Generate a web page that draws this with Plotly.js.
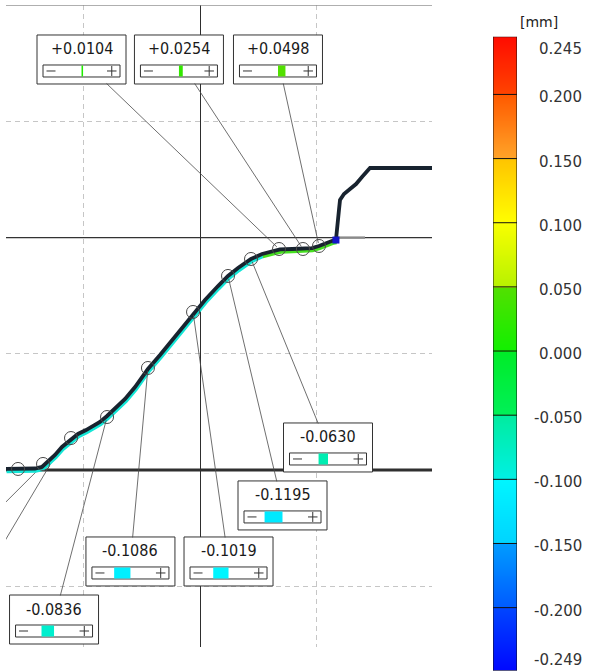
<!DOCTYPE html>
<html>
<head>
<meta charset="utf-8">
<script src="https://cdn.plot.ly/plotly-3.0.1.min.js"></script>
<style>
html,body{margin:0;padding:0;background:#ffffff;}
#chart{width:589px;height:672px;}
</style>
</head>
<body>
<div id="chart"></div>
<script>
// ---------------- data ----------------
// measured profile (section units, one grid cell = 1)
const profileX = [-1.670,-1.549,-1.420,-1.360,-1.308,-1.248,-1.188,-1.119,-1.050,-0.981,-0.912,-0.861,-0.800,-0.732,-0.645,-0.559,-0.448,-0.344,-0.215,-0.060,0.043,0.155,0.241,0.327,0.439,0.534,0.620,0.688,0.792,0.886,0.964,1.024,1.084,1.145,1.170,1.179,1.196,1.205,1.239,1.291,1.343,1.394,1.463,1.997];
const profileY = [0.009,0.009,0.013,0.026,0.069,0.129,0.198,0.258,0.310,0.344,0.379,0.413,0.465,0.525,0.611,0.714,0.869,0.990,1.145,1.343,1.463,1.583,1.670,1.738,1.816,1.859,1.885,1.898,1.902,1.902,1.910,1.928,1.954,1.975,1.979,2.108,2.238,2.324,2.375,2.418,2.461,2.522,2.599,2.599];
// measurement points (circles)
const pointX = [-1.566,-1.351,-1.110,-0.800,-0.448,-0.060,0.241,0.439,0.680,0.886,1.024];
const pointY = [0.009,0.052,0.275,0.456,0.878,1.360,1.670,1.816,1.902,1.902,1.928];
// end of measured section
const endPointX = [1.170];
const endPointY = [1.979];
// nominal lines
const nominalLowerY = 0;
const nominalUpperY = 2;
const nominalStubX = [1.179, 1.420];
// callouts
const calloutLabels = ['+0.0104','+0.0254','+0.0498','-0.0630','-0.1195','-0.1019','-0.1086','-0.0836'];
const calloutValues = [0.0104, 0.0254, 0.0498, -0.0630, -0.1195, -0.1019, -0.1086, -0.0836];
const calloutPoint = [8, 9, 10, 7, 6, 5, 4, 3];
// callouts cut off at the left edge (leader lines only): where the leaders meet the profile
const hiddenCalloutX = [-1.386, -1.256];
const hiddenCalloutY = [0.009, 0.103];
// colour scale
const scaleTicks = [0.245, 0.200, 0.150, 0.100, 0.050, 0.000, -0.050, -0.100, -0.150, -0.200, -0.249];
const scaleTickText = ['0.245','0.200','0.150','0.100','0.050','0.000','-0.050','-0.100','-0.150','-0.200','-0.249'];
const bandTopColors    = ['#ff0c00','#ff5a00','#ffc400','#f8ff00','#52e000','#00ec28','#00eca0','#00f6ff','#009cff','#0046ff'];
const bandBottomColors = ['#ff4400','#ffa428','#ffff00','#b8f200','#12f000','#00f058','#00f0e4','#00d4ff','#005cff','#0008ff'];

// ---------------- layout constants (pixels) ----------------
const W = 589, H = 672;
const PX_PER_UNIT = 116.2;
const boxOffsetX = [-197.5, -124, -41, 77, 54.5, 35.5, -17.5, -53];
const boxOffsetY = [-189.5, -189.5, -186.5, 188.5, 229.5, 249.5, 193.5, 202.5];
const hiddenOffsetX = [-80, -90];
const hiddenOffsetY = [80, 151.7];
const devScalePx = 150; // px per mm in the +/- indicator

// ---------------- helpers ----------------
function hexToRgb(h){h=h.replace('#','');return [parseInt(h.substr(0,2),16),parseInt(h.substr(2,2),16),parseInt(h.substr(4,2),16)];}
function mix(a,b,t){const A=hexToRgb(a),B=hexToRgb(b);const c=A.map((v,i)=>Math.round(v+(B[i]-v)*t));return 'rgb('+c.join(',')+')';}
function devColor(v){
  for(let i=0;i<scaleTicks.length-1;i++){
    const hi=scaleTicks[i], lo=scaleTicks[i+1];
    if(v<=hi && v>=lo){return mix(bandTopColors[i],bandBottomColors[i],(hi-v)/(hi-lo));}
  }
  return v>0?bandTopColors[0]:bandBottomColors[bandBottomColors.length-1];
}

// ---------------- traces ----------------
const traces = [];
// colour bar (heatmap of the band colours)
const eps = 0.0004;
const cbY = [], cbZ = [], cbScale = [];
const nb = bandTopColors.length;
for(let i=0;i<nb;i++){
  cbY.push(i===0?scaleTicks[i]:scaleTicks[i]-eps);
  cbY.push(i===nb-1?scaleTicks[i+1]:scaleTicks[i+1]+eps);
}
const nStops = cbY.length;
for(let k=0;k<nStops;k++){
  cbZ.push([k,k]);
  const col = (k%2===0)?bandTopColors[k>>1]:bandBottomColors[k>>1];
  cbScale.push([k/(nStops-1), col]);
}
cbY.reverse(); cbZ.reverse();
const cbScaleSorted = cbScale.map(s=>[1-s[0], s[1]]).reverse();
const cbZval = cbZ.map(r=>r.map(v=>nStops-1-v));
traces.push({type:'heatmap', x:[0,1], y:cbY, z:cbZval, xaxis:'x2', yaxis:'y2',
  colorscale:cbScaleSorted, zmin:0, zmax:nStops-1, zsmooth:'best', showscale:false, hoverinfo:'skip'});

// deviation colouring along the profile (drawn slightly offset under the profile)
const offX = 0.6/PX_PER_UNIT, offY = -2.0/PX_PER_UNIT;
const splitIdx = 25, endIdx = 34;
traces.push({type:'scatter', mode:'lines', x:profileX.slice(0,splitIdx+1).map(v=>v+offX), y:profileY.slice(0,splitIdx+1).map(v=>v+offY),
  line:{color:'#14e6d6', width:4.5}, hoverinfo:'skip', showlegend:false});
traces.push({type:'scatter', mode:'lines', x:profileX.slice(splitIdx,endIdx+1).map(v=>v+offX), y:profileY.slice(splitIdx,endIdx+1).map(v=>v+offY),
  line:{color:'#46e020', width:4.5}, hoverinfo:'skip', showlegend:false});
// profile
traces.push({type:'scatter', mode:'lines', x:profileX, y:profileY,
  line:{color:'#18232f', width:3.8}, hoverinfo:'skip', showlegend:false});
// measurement circles
traces.push({type:'scatter', mode:'markers', x:pointX, y:pointY,
  marker:{symbol:'circle-open', size:13, color:'#4a4a4a', line:{width:1}}, hoverinfo:'skip', showlegend:false});
// end point
traces.push({type:'scatter', mode:'markers', x:endPointX, y:endPointY,
  marker:{symbol:'square', size:7, color:'#1414c8'}, hoverinfo:'skip', showlegend:false});

// ---------------- shapes & annotations ----------------
const shapes = [];
const annotations = [];
const xr = [-1.6695, 1.9966];
// nominal lines
shapes.push({type:'line', xref:'x', yref:'y', x0:xr[0], x1:xr[1], y0:nominalLowerY, y1:nominalLowerY, line:{color:'#2f2f2f', width:3}, layer:'between'});
shapes.push({type:'line', xref:'x', yref:'y', x0:xr[0], x1:xr[1], y0:nominalUpperY, y1:nominalUpperY, line:{color:'#333333', width:1.4}, layer:'between'});
shapes.push({type:'line', xref:'x', yref:'y', x0:nominalStubX[0], x1:nominalStubX[1], y0:nominalUpperY, y1:nominalUpperY, line:{color:'#8a8a8a', width:2.4}, layer:'between'});
// top frame line
shapes.push({type:'line', xref:'x', yref:'y', x0:xr[0], x1:xr[1], y0:4, y1:4, line:{color:'#8c8c8c', width:1}, layer:'between'});

// leaders of the callouts that lie outside the picture (clipped by the plot area)
for(let i=0;i<hiddenCalloutX.length;i++){
  shapes.push({type:'line', xref:'x', yref:'y', x0:hiddenCalloutX[i], y0:hiddenCalloutY[i],
    x1:hiddenCalloutX[i]+hiddenOffsetX[i]/PX_PER_UNIT, y1:hiddenCalloutY[i]-hiddenOffsetY[i]/PX_PER_UNIT,
    line:{color:'#4a4a4a', width:0.8}, layer:'between'});
}

function pxShape(ax, ay, type, x0, x1, y0, y1, extra){
  // x0..y1: pixel offsets relative to the anchor point, y downward positive
  return Object.assign({type:type, xref:'x', yref:'y', xsizemode:'pixel', ysizemode:'pixel',
    xanchor:ax, yanchor:ay, x0:x0, x1:x1, y0:-y0, y1:-y1, layer:'above'}, extra);
}

const txtFont = {family:'DejaVu Sans Condensed, DejaVu Sans, sans-serif', size:16, color:'#1a1a1a'};
for(let i=0;i<calloutLabels.length;i++){
  const px = pointX[calloutPoint[i]], py = pointY[calloutPoint[i]];
  const ox = boxOffsetX[i], oy = boxOffsetY[i];
  const v = calloutValues[i];
  // leader line
  annotations.push({x:px, y:py, xref:'x', yref:'y', ax:ox, ay:oy, axref:'pixel', ayref:'pixel',
    text:' ', showarrow:true, arrowhead:0, arrowwidth:0.8, arrowcolor:'#4a4a4a', standoff:3,
    width:87, height:47, borderpad:0, borderwidth:1, bordercolor:'rgba(0,0,0,0)', bgcolor:'rgba(0,0,0,0)',
    xanchor:'center', yanchor:'middle'});
  // box
  shapes.push(pxShape(px, py, 'rect', ox-44.5, ox+44.5, oy-24.5, oy+24.5, {fillcolor:'#ffffff', line:{color:'#333333', width:1}}));
  // indicator frame
  shapes.push(pxShape(px, py, 'rect', ox-38.5, ox+38.5, oy+5.5, oy+17.5, {fillcolor:'rgba(0,0,0,0)', line:{color:'#333333', width:1}}));
  // deviation bar
  const w = Math.abs(v)*devScalePx;
  const bx0 = v>=0 ? ox : ox-w, bx1 = v>=0 ? ox+w : ox;
  shapes.push(pxShape(px, py, 'rect', bx0, bx1, oy+6, oy+17, {fillcolor:devColor(v), line:{width:0}}));
  // minus / plus
  shapes.push(pxShape(px, py, 'line', ox-35, ox-26, oy+11.5, oy+11.5, {line:{color:'#333333', width:1}}));
  shapes.push(pxShape(px, py, 'line', ox+25.5, ox+35, oy+11.5, oy+11.5, {line:{color:'#333333', width:1}}));
  shapes.push(pxShape(px, py, 'line', ox+30.25, ox+30.25, oy+6.5, oy+16.5, {line:{color:'#333333', width:1}}));
  // value text
  annotations.push({x:px, y:py, xref:'x', yref:'y', showarrow:false, text:calloutLabels[i],
    xshift:ox, yshift:10.5-oy, xanchor:'center', yanchor:'middle', font:txtFont});
}

// colour bar frame, separators, labels
shapes.push({type:'rect', xref:'x2', yref:'y2', x0:-0.5, x1:1.5, y0:scaleTicks[scaleTicks.length-1], y1:scaleTicks[0], line:{color:'#111111', width:1}, fillcolor:'rgba(0,0,0,0)', layer:'above'});
for(let i=1;i<scaleTicks.length-1;i++){
  shapes.push({type:'line', xref:'x2', yref:'y2', x0:-0.5, x1:1.5, y0:scaleTicks[i], y1:scaleTicks[i], line:{color:'#111111', width:1}, layer:'above'});
}
const lblFont = {family:'DejaVu Sans, sans-serif', size:15, color:'#333333'};
for(let i=0;i<scaleTicks.length;i++){
  let ys = -3;
  if(i===0) ys = -12.5;
  if(i===scaleTicks.length-1) ys = 10.5;
  annotations.push({xref:'paper', yref:'y2', x:584/W, y:scaleTicks[i], xanchor:'right', yanchor:'middle',
    text:scaleTickText[i], showarrow:false, yshift:ys, font:lblFont});
}
annotations.push({xref:'paper', yref:'paper', x:518/W, y:1-22/H, xanchor:'left', yanchor:'middle',
  text:'[mm]', showarrow:false, font:{family:'DejaVu Sans, sans-serif', size:14, color:'#222222'}});

const layout = {
  width:W, height:H,
  margin:{l:0, r:0, t:0, b:0, pad:0},
  paper_bgcolor:'#ffffff', plot_bgcolor:'#ffffff',
  showlegend:false,
  xaxis:{domain:[6/W, 432/W], range:xr, tick0:0, dtick:1, showgrid:true, gridcolor:'#c6c6c6', gridwidth:1, griddash:'5px,4px',
    zeroline:true, zerolinecolor:'#2e2e2e', zerolinewidth:1, showticklabels:false, ticks:'', showline:false, fixedrange:true},
  yaxis:{domain:[1-647/H, 1-5/H], range:[(470-647)/PX_PER_UNIT, (470-5)/PX_PER_UNIT], tick0:0, dtick:1, showgrid:true, gridcolor:'#c6c6c6', gridwidth:1, griddash:'5px,4px',
    zeroline:false, showticklabels:false, ticks:'', showline:false, fixedrange:true},
  xaxis2:{domain:[493/W, 517/W], range:[-0.5, 1.5], anchor:'y2', visible:false, fixedrange:true},
  yaxis2:{domain:[1-670.5/H, 1-36.7/H], range:[scaleTicks[scaleTicks.length-1], scaleTicks[0]], anchor:'x2', visible:false, fixedrange:true},
  shapes:shapes,
  annotations:annotations
};

Plotly.newPlot('chart', traces, layout, {displayModeBar:false, staticPlot:true});
</script>
</body>
</html>
